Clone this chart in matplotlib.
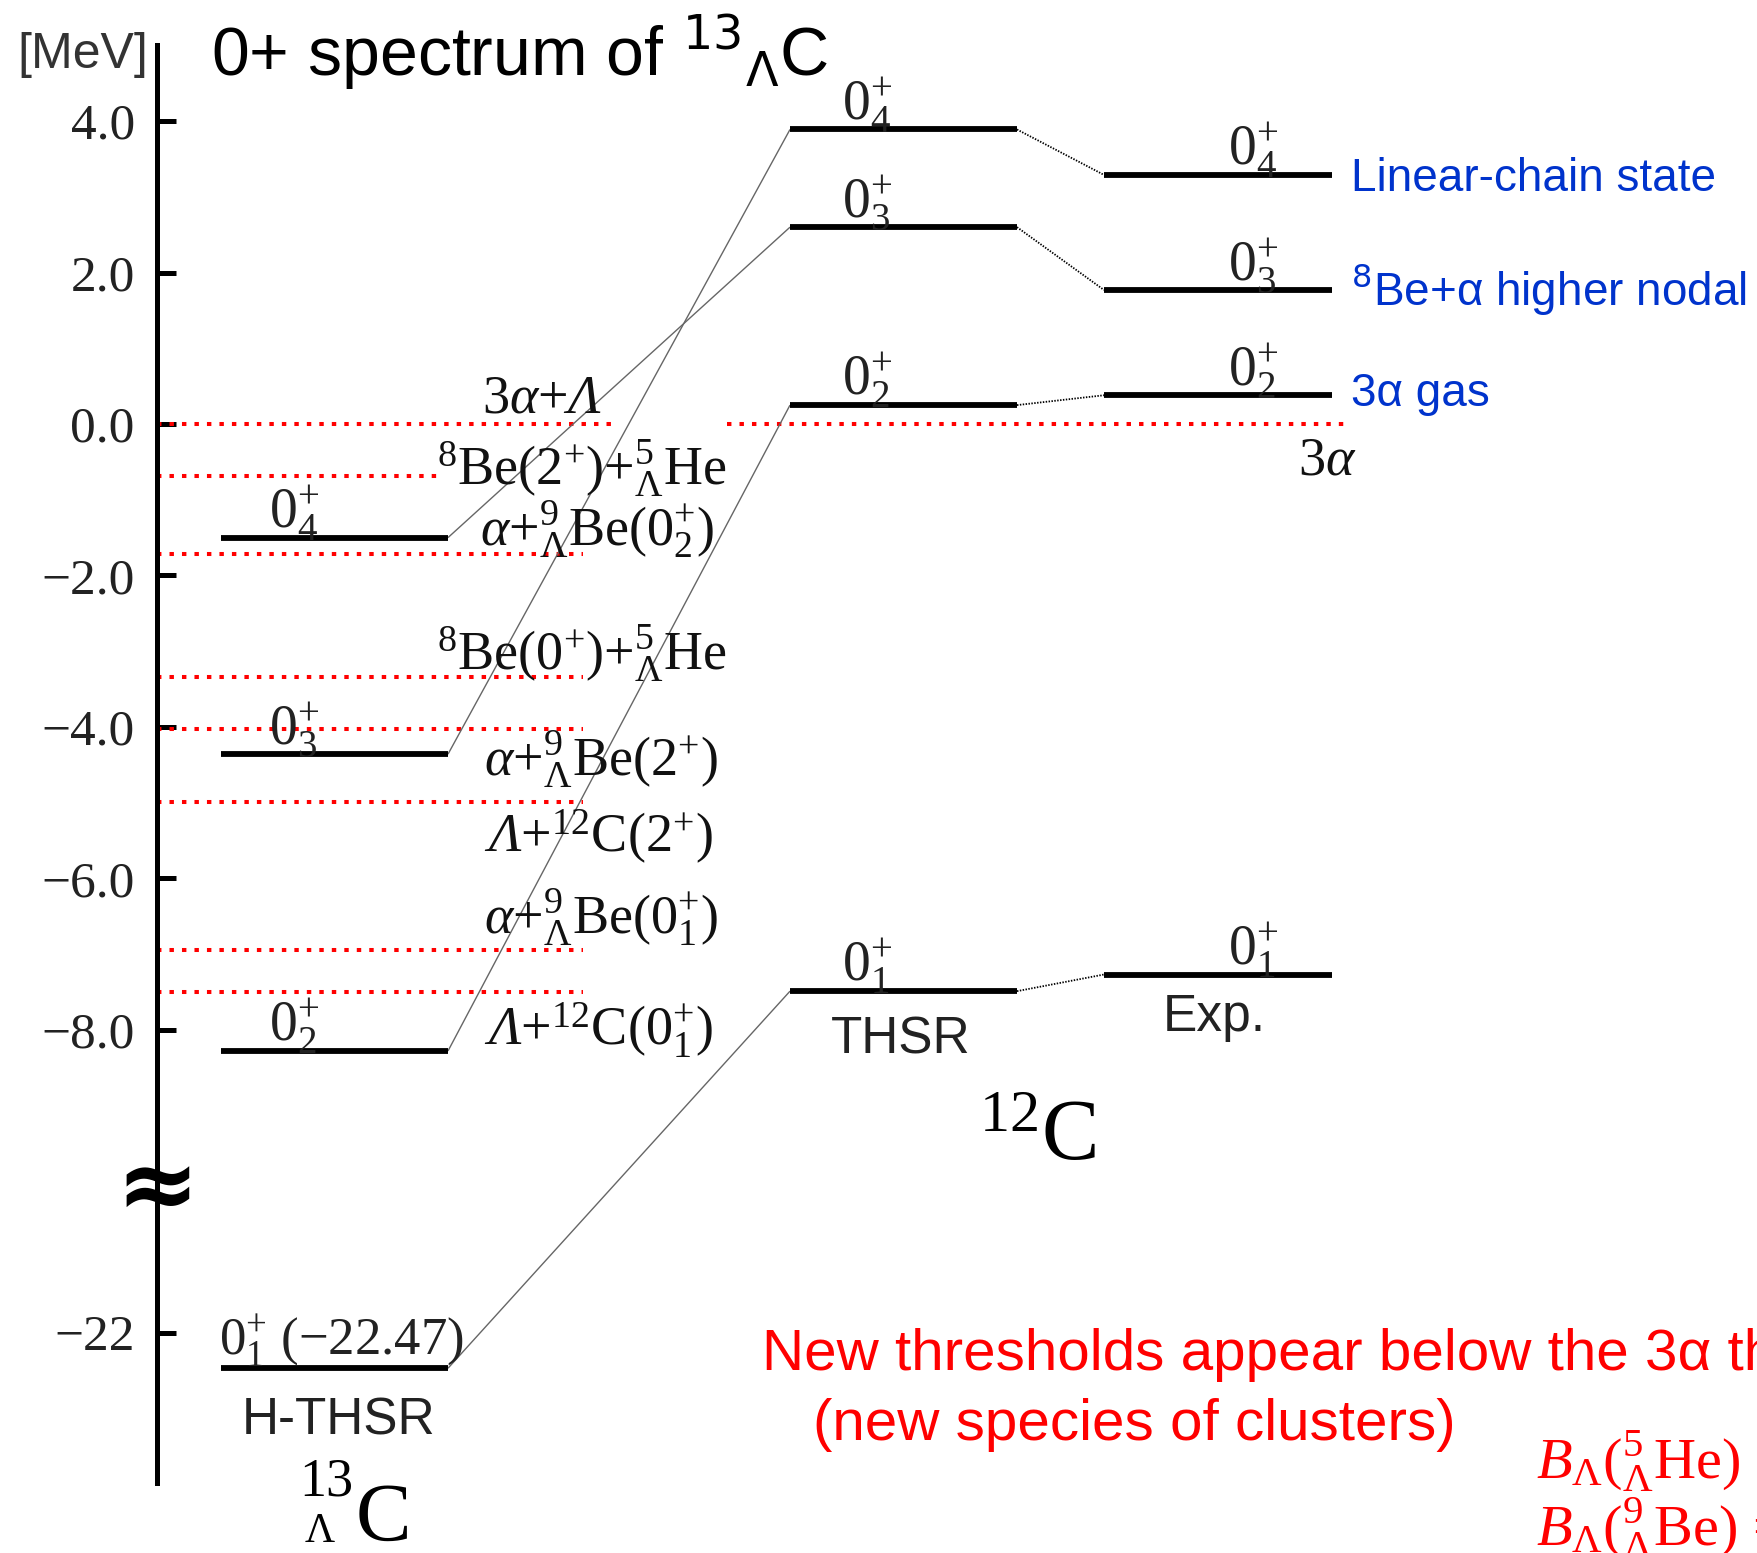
import numpy as np
import matplotlib
matplotlib.use("Agg")
import matplotlib.pyplot as plt
from matplotlib.ticker import FixedLocator, FixedFormatter

plt.rcParams["mathtext.fontset"] = "custom"
plt.rcParams["mathtext.rm"] = "Liberation Serif"
plt.rcParams["mathtext.it"] = "Liberation Serif:italic"
plt.rcParams["mathtext.bf"] = "Liberation Serif:bold"
plt.rcParams["mathtext.cal"] = "Liberation Serif:italic"
plt.rcParams["font.family"] = ["Liberation Serif", "DejaVu Serif"]

# ---- energies in MeV, measured from the 3alpha(+Lambda) threshold ----
hyp_levels = [-22.47, -8.28, -4.36, -1.50]          # 13_Lambda C, H-THSR
hyp_index = ["1", "2", "3", "4"]
thsr_levels = [-7.49, 0.25, 2.60, 3.89]             # 12C, THSR
exp_levels = [-7.27, 0.38, 1.77, 3.29]              # 12C, experiment
level_index = ["1", "2", "3", "4"]
hyp_to_thsr = [0, 1, 3, 2]                          # correspondence lines

thresholds = [0.00, -0.68, -1.72, -3.34, -4.03, -4.99, -6.94, -7.50]
threshold_labels = [
    r"$3\alpha{+}\mathcal{\Lambda}$",
    r"${}^{8}\mathrm{Be}(2^{+}){+}{}^{5}_{\Lambda}\mathrm{He}$",
    r"$\alpha{+}{}^{9}_{\Lambda}\mathrm{Be}(0^{+}_{2})$",
    r"${}^{8}\mathrm{Be}(0^{+}){+}{}^{5}_{\Lambda}\mathrm{He}$",
    r"$\alpha{+}{}^{9}_{\Lambda}\mathrm{Be}(2^{+})$",
    r"$\mathcal{\Lambda}{+}{}^{12}\mathrm{C}(2^{+})$",
    r"$\alpha{+}{}^{9}_{\Lambda}\mathrm{Be}(0^{+}_{1})$",
    r"$\mathcal{\Lambda}{+}{}^{12}\mathrm{C}(0^{+}_{1})$",
]
c12_threshold = 0.0

ytick_values = [4, 2, 0, -2, -4, -6, -8, -22]
ytick_labels = ["4.0", "2.0", "0.0", "\u22122.0", "\u22124.0", "\u22126.0",
                "\u22128.0", "\u221222"]

cluster_labels = ["Linear-chain state", "$^{8}$Be+α higher nodal", "3α gas"]

# ---- layout (horizontal positions in canvas pixels) ----
W, H, DPI = 1758, 1553, 100
AXIS_X = 157
HYP_X = (221, 448)
THSR_X = (790, 1017)
EXP_X = (1104, 1332)
thr_ends = [611, 443, 583, 583, 583, 583, 583, 583]
thr_label_pos = [(482, 0.15), (437, -0.80), (480, -1.60), (437, -3.24),
                 (484, -4.64), (484, -5.65), (484, -6.73), (484, -8.21)]
BLUE = "#0033cc"
RED = "#ff0000"


# broken energy axis: the gap between -20 and -10 MeV is removed
def fwd(e):
    e = np.asarray(e, dtype=float)
    return np.where(e >= -10, e, np.where(e <= -20, e + 10.0, -10.0))


def inv(u):
    u = np.asarray(u, dtype=float)
    return np.where(u >= -10, u, u - 10.0)


fig = plt.figure(figsize=(W / DPI, H / DPI), dpi=DPI)
ax = fig.add_axes([0, 0, 1, 1])
ax.set_yscale("function", functions=(fwd, inv))
ax.set_xlim(0, W)
ax.set_ylim(-24.91, 5.60)

# axis styling
for s in ("top", "right", "bottom"):
    ax.spines[s].set_visible(False)
ax.xaxis.set_visible(False)
ax.spines["left"].set_position(("data", AXIS_X))
ax.spines["left"].set_bounds(-23.98, 5.0)
ax.spines["left"].set_linewidth(3.6)
ax.yaxis.set_major_locator(FixedLocator(ytick_values))
ax.yaxis.set_major_formatter(FixedFormatter(ytick_labels))
ax.yaxis.set_minor_locator(FixedLocator([]))
ax.tick_params(axis="y", direction="in", length=14, width=3.6, pad=16,
               labelsize=37, colors="black")
for lab in ax.get_yticklabels():
    lab.set_fontfamily("Liberation Serif")
    lab.set_color("#222222")

# axis break mark
ax.text(AXIS_X, -20.12, "\u2248", fontsize=72, fontweight="bold",
        family="DejaVu Sans", ha="center", va="center")

# threshold lines
dot_kw = dict(color=RED, lw=2.9, linestyle=(0, (1.1, 2.0)))
for e, x1 in zip(thresholds, thr_ends):
    ax.hlines(e, AXIS_X, x1, **dot_kw)
ax.hlines(c12_threshold, 727, 1351, **dot_kw)
for txt, (x, y) in zip(threshold_labels, thr_label_pos):
    ax.text(x, y, txt, fontsize=39, ha="left", va="baseline", color="#111111")
ax.text(1298, -0.67, r"$3\alpha$", fontsize=39, ha="left", va="baseline",
        color="#111111")

# correspondence lines
for i, j in enumerate(hyp_to_thsr):
    ax.plot([HYP_X[1], THSR_X[0]], [hyp_levels[i], thsr_levels[j]],
            color="#666666", lw=1.0, solid_capstyle="butt")
for t, e in zip(thsr_levels, exp_levels):
    ax.plot([THSR_X[1], EXP_X[0]], [t, e], color="black", lw=1.3,
            linestyle=(0, (0.8, 0.8)))

# energy levels
lvl_kw = dict(color="black", lw=4.2)
ax.hlines(hyp_levels, *HYP_X, **lvl_kw)
ax.hlines(thsr_levels, *THSR_X, **lvl_kw)
ax.hlines(exp_levels, *EXP_X, **lvl_kw)

lab_kw = dict(textcoords="offset points", va="baseline", color="#222222")
for e, n in zip(hyp_levels[1:], hyp_index[1:]):
    ax.annotate(rf"$0^{{+}}_{{{n}}}$", (294, e), xytext=(0, 7), ha="center",
                fontsize=40, **lab_kw)
ax.annotate(rf"$0^{{+}}_{{{hyp_index[0]}}}\ (-{abs(hyp_levels[0]):.2f})$",
            (219, hyp_levels[0]), xytext=(0, 9), ha="left", fontsize=38,
            **lab_kw)
for e, n in zip(thsr_levels, level_index):
    ax.annotate(rf"$0^{{+}}_{{{n}}}$", (867, e), xytext=(0, 7), ha="center",
                fontsize=40, **lab_kw)
for e, n in zip(exp_levels, level_index):
    ax.annotate(rf"$0^{{+}}_{{{n}}}$", (1253, e), xytext=(0, 7), ha="center",
                fontsize=40, **lab_kw)

# column captions
sans = "Liberation Sans"
ax.text(339, -23.34, "H-THSR", family=sans, fontsize=37, ha="center",
        va="baseline", color="#222222")
ax.text(901, -8.31, "THSR", family=sans, fontsize=37, ha="center",
        va="baseline", color="#222222")
ax.text(1214, -8.02, "Exp.", family=sans, fontsize=37, ha="center",
        va="baseline", color="#222222")

# 13_Lambda C nucleus symbol: mass number over Lambda, before the C
ax.text(356, -24.74, "C", fontsize=60, ha="left", va="baseline")
ax.text(353, -24.15, "13", fontsize=39, ha="right", va="baseline")
ax.text(305, -24.76, "\u039b", fontsize=30, ha="left", va="baseline")
ax.text(1038, -9.72, r"${}^{12}\mathrm{C}$", fontsize=62, ha="center",
        va="baseline")

# headings
ax.text(17, 4.70, "[MeV]", family=sans, fontsize=36, ha="left",
        va="baseline", color="#333333")
ax.text(211, 4.59, r"0+ spectrum of $^{13}{}_{\Lambda}$C", family=sans,
        fontsize=49, ha="left", va="baseline", math_fontfamily="dejavusans")

# cluster structure notes
for txt, y in zip(cluster_labels, [3.08, 1.57, 0.24]):
    ax.text(1351, y, txt, family=sans, fontsize=33, ha="left", va="baseline",
            color=BLUE, math_fontfamily="dejavusans")

ax.text(762, -22.49, "New thresholds appear below the 3α threshold",
        family=sans, fontsize=42, ha="left", va="baseline", color=RED)
ax.text(813, -23.42, "(new species of clusters)", family=sans, fontsize=42,
        ha="left", va="baseline", color=RED)
ax.text(1536, -23.93, r"$B_{\Lambda}({}^{5}_{\Lambda}\mathrm{He})$ = 3.12 MeV",
        fontsize=42, ha="left", va="baseline", color=RED)
ax.text(1536, -24.82, r"$B_{\Lambda}({}^{9}_{\Lambda}\mathrm{Be})$ = 6.71 MeV",
        fontsize=42, ha="left", va="baseline", color=RED)

fig.savefig("out.png", dpi=DPI)
